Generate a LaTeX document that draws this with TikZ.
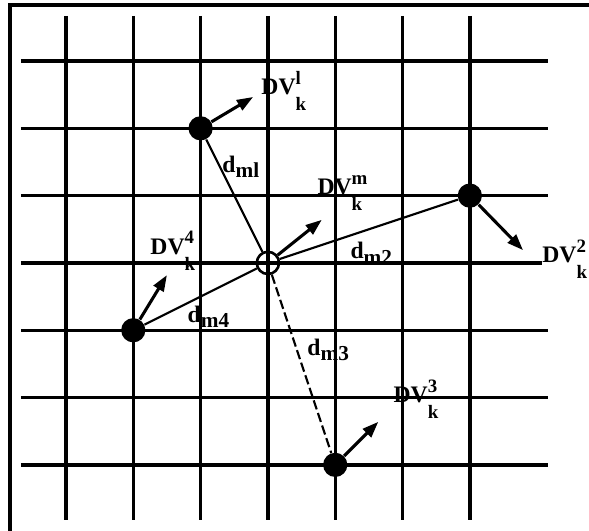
\documentclass[tikz,border=0pt]{standalone}
\usepackage{fontspec}
\setmainfont{Liberation Serif}
\usetikzlibrary{arrows.meta}

\newcommand{\dvk}[1]{DV\rlap{\raisebox{1ex}{\footnotesize #1}}\raisebox{-1.4ex}{\footnotesize k}}
\newcommand{\dm}[1]{d\raisebox{-0.5ex}{\small m#1}}

\begin{document}
\begin{tikzpicture}[
  every node/.style={font=\bfseries},
  gridline/.style={line width=1.4pt},
  frame/.style={line width=1.4pt},
  link/.style={line width=0.9pt},
  dashlink/.style={link, dash pattern=on 4pt off 1.6pt},
  vec/.style={-{Triangle[length=2.4mm,width=1.7mm]}, line width=1.3pt},
  obs/.style={circle, fill=black, inner sep=0pt, minimum size=3.6mm},
  est/.style={circle, draw, line width=1.1pt, inner sep=0pt, minimum size=3.3mm},
  lbl/.style={anchor=base west, inner sep=0pt}
]
  \useasboundingbox (-0.98,0.906) rectangle (7.77,-6.98);

  % ---- frame, cut at right and bottom ----
  \draw[frame] (-0.832,-7.1) -- (-0.832,0.832) -- (7.9,0.832);

  % ---- grid ----
  \foreach \i in {0,...,6}
    \draw[gridline] (\i,0.67) -- (\i,-6.82);
  \foreach \j in {0,1,2,4,5,6}
    \draw[gridline] (-0.67,-\j) -- (7.16,-\j);

  % ---- grid points ----
  \node[obs] (p1) at (2,-1) {};
  \node[obs] (p2) at (6,-2) {};
  \node[obs] (p3) at (4,-6) {};
  \node[obs] (p4) at (1,-4) {};
  \node[est] (m)  at (3,-3) {};

  % ---- labels ----
  \node[lbl] (dv1) at (2.897,-0.505) {\dvk{l}};
  \node[lbl] (dv2) at (7.07,-3.0)    {\dvk{2}};
  \node[lbl] (dv3) at (4.86,-5.08)   {\dvk{3}};
  \node[lbl] (dv4) at (1.248,-2.88)  {\dvk{4}};
  \node[lbl] (dvm) at (3.73,-1.99)   {\dvk{m}};

  \node[lbl] (d1) at (2.318,-1.65) {\dm{l}};
  \node[lbl] (d2) at (4.22,-2.94)  {\dm{2}};
  \node[lbl] (d3) at (3.58,-4.37)  {\dm{3}};
  \node[lbl] (d4) at (1.80,-3.88)  {\dm{4}};

  % middle grid line runs into the DV label
  \draw[gridline] (-0.67,-3) -- (dv2.base west);

  % ---- distances to the centre point ----
  \draw[link] (p1) -- (m);
  \draw[link] (p2) -- (m);
  \draw[link] (p4) -- (m);
  \draw[dashlink] (m) -- (p3);

  % ---- vectors ----
  \coordinate (t1) at (2.78,-0.535);
  \coordinate (t2) at (6.79,-2.81);
  \coordinate (t3) at (4.64,-5.36);
  \coordinate (t4) at (1.50,-3.18);
  \coordinate (tm) at (3.80,-2.36);

  \draw[vec] (p1) -- (t1);
  \draw[vec] (p2) -- (t2);
  \draw[vec] (p3) -- (t3);
  \draw[vec] (p4) -- (t4);
  \draw[vec] (m)  -- (tm);
\end{tikzpicture}
\end{document}
